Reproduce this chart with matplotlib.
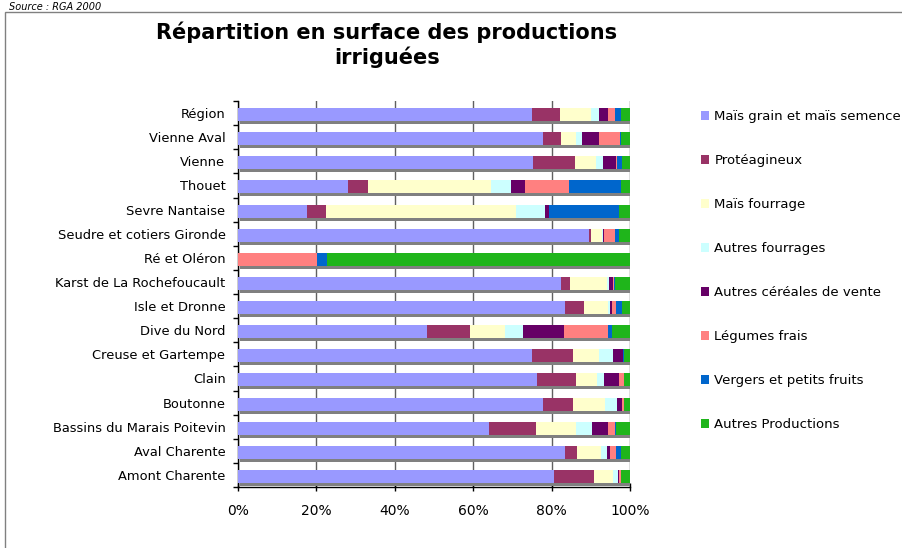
import matplotlib
matplotlib.use('Agg')
import matplotlib.pyplot as plt
from matplotlib.patches import Rectangle

# categories, top to bottom
regions = ['Région', 'Vienne Aval', 'Vienne', 'Thouet', 'Sevre Nantaise',
           'Seudre et cotiers Gironde', 'Ré et Oléron', 'Karst de La Rochefoucault',
           'Isle et Dronne', 'Dive du Nord', 'Creuse et Gartempe', 'Clain',
           'Boutonne', 'Bassins du Marais Poitevin', 'Aval Charente', 'Amont Charente']

series_names = ['Maïs grain et maïs semence', 'Protéagineux', 'Maïs fourrage',
                'Autres fourrages', 'Autres céréales de vente', 'Légumes frais',
                'Vergers et petits fruits', 'Autres Productions']

mais_grain = [75.0, 77.8, 75.3, 28.1, 17.6, 89.5, 0.0, 82.4, 83.4, 48.2, 75.0, 76.3, 77.8, 64.0, 83.4, 80.6]
proteagineux = [7.1, 4.6, 10.7, 5.1, 4.8, 0.5, 0.0, 2.3, 4.9, 11.0, 10.5, 9.9, 7.7, 12.0, 3.1, 10.2]
mais_fourrage = [8.0, 3.8, 5.3, 31.3, 48.5, 2.8, 0.0, 9.4, 6.1, 8.9, 6.6, 5.4, 8.1, 10.2, 6.1, 4.9]
autres_fourrages = [2.0, 1.6, 1.8, 5.1, 7.4, 0.2, 0.0, 0.5, 0.4, 4.6, 3.6, 1.8, 3.1, 4.1, 1.5, 1.2]
autres_cereales = [2.3, 4.3, 3.3, 3.6, 1.0, 0.3, 0.0, 1.0, 0.7, 10.5, 2.5, 3.8, 1.3, 4.1, 0.8, 0.4]
legumes = [1.8, 5.3, 0.3, 11.2, 0.0, 2.8, 20.2, 0.3, 1.0, 11.2, 0.0, 1.3, 0.5, 1.8, 1.5, 0.3]
vergers = [1.5, 0.3, 1.3, 13.3, 17.9, 1.0, 2.6, 0.3, 1.5, 1.0, 0.3, 0.0, 0.0, 0.2, 1.3, 0.0]
autres_prod = [2.3, 2.3, 2.0, 2.3, 2.8, 2.9, 77.2, 3.8, 2.0, 4.6, 1.5, 1.5, 1.5, 3.6, 2.3, 2.4]

series = [mais_grain, proteagineux, mais_fourrage, autres_fourrages,
          autres_cereales, legumes, vergers, autres_prod]
colors = ['#9999FF', '#993366', '#FFFFCC', '#CCFFFF', '#660066', '#FF8080', '#0066CC', '#1FB51B']

W, H = 902, 548
fig = plt.figure(figsize=(W / 100, H / 100), dpi=100)
plt.rcParams['font.family'] = ['DejaVu Sans']

ax = fig.add_axes([238 / W, 1 - 487 / H, 392 / W, 386 / H])

n = len(regions)
ypos = list(range(n))
px_y = n / 386.0          # one pixel in category units
px_x = 100 / 392.0        # one pixel in percent
bar_h = 13 * px_y
centers = [y + 1.5 * px_y for y in ypos]

# grey depth shadow under each bar
ax.barh([c + 3 * px_y for c in centers], [100] * n, left=2 * px_x, height=bar_h,
        color='#808080', zorder=2)

left = [0.0] * n
handles = []
for name, vals, col in zip(series_names, series, colors):
    b = ax.barh(centers, vals, left=left, height=bar_h, color=col, label=name, zorder=3)
    handles.append(b)
    left = [l + v for l, v in zip(left, vals)]

ax.set_xlim(0, 100)
ax.set_ylim(n - 0.5, -0.5)
ax.set_xticks([0, 20, 40, 60, 80, 100])
ax.set_xticklabels(['0%', '20%', '40%', '60%', '80%', '100%'], fontsize=10)
ax.set_yticks(ypos)
ax.set_yticklabels(regions, fontsize=9.4)
ax.set_yticks([y - 0.5 for y in range(n + 1)], minor=True)
ax.tick_params(axis='y', which='major', length=0, pad=9)
ax.tick_params(axis='y', which='minor', length=3.6, width=1, direction='out')
ax.tick_params(axis='x', which='major', length=5.8, width=1, direction='inout', pad=9)
ax.xaxis.grid(True, color='#606060', linewidth=1)
ax.set_axisbelow(True)
for s in ['top', 'right']:
    ax.spines[s].set_visible(False)
ax.spines['left'].set_linewidth(1)
ax.spines['bottom'].set_linewidth(1)

fig.legend(handles=handles, loc='upper left', bbox_to_anchor=(701 / W, 1 - 110 / H),
           frameon=False, fontsize=9.5, labelspacing=2.35, handlelength=0.62,
           handleheight=0.62, handletextpad=0.4, borderpad=0, borderaxespad=0)

fig.text(387 / W, 1 - 45 / H, 'Répartition en surface des productions\nirriguées',
         ha='center', va='center', fontsize=15, fontweight='bold', linespacing=1.2)
fig.text(9 / W, 1 - 7 / H, 'Source : RGA 2000', ha='left', va='center',
         fontsize=7, style='italic')

# chart frame
fig.patches.append(Rectangle((5 / W, -0.1), 1.2, 1.1 - 12 / H, transform=fig.transFigure,
                             fill=False, edgecolor='#808080', linewidth=1))

fig.savefig('out.png', dpi=100)
